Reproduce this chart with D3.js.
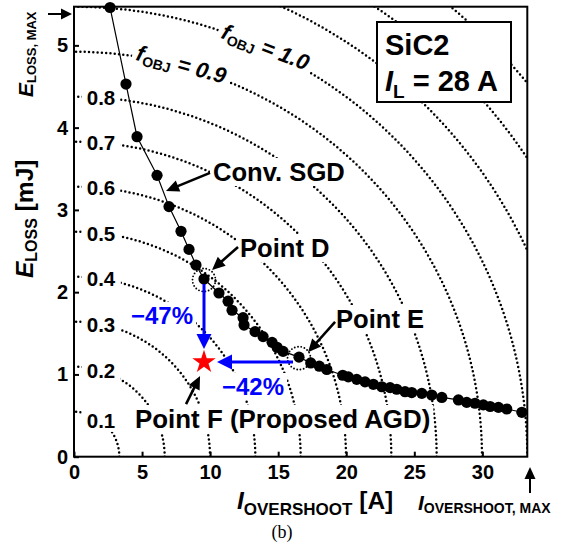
<!DOCTYPE html>
<html><head><meta charset="utf-8">
<script src="https://cdn.jsdelivr.net/npm/d3@7"></script>
<style>
html,body{margin:0;padding:0;background:#fff;}
svg{display:block;font-family:"Liberation Sans",Arial,sans-serif;}
</style></head><body>
<svg id="chart" width="567" height="545"></svg>
<script>
// ---------- data ----------
const IMAX = 33.3;   // I_OVERSHOOT,MAX [A]
const EMAX = 5.47;   // E_LOSS,MAX [mJ]
const convI = [2.65, 3.82, 4.63, 6.10, 6.98, 7.86, 8.45, 8.96, 9.55, 10.65, 11.32, 11.61, 12.42, 12.49, 13.30, 13.89, 14.55, 14.92, 15.36, 16.53, 17.39, 18.02, 18.57, 19.74, 20.15, 20.77, 21.38, 21.99, 22.61, 23.22, 23.71, 24.32, 24.81, 25.55, 26.28, 27.02, 28.24, 28.85, 29.46, 30.07, 30.57, 31.18, 31.79, 32.90];
const convE = [5.46, 4.53, 3.89, 3.42, 3.04, 2.74, 2.52, 2.33, 2.16, 1.99, 1.89, 1.78, 1.69, 1.60, 1.52, 1.46, 1.39, 1.33, 1.28, 1.21, 1.14, 1.10, 1.06, 0.99, 0.97, 0.94, 0.91, 0.88, 0.85, 0.84, 0.82, 0.79, 0.78, 0.77, 0.75, 0.72, 0.69, 0.66, 0.65, 0.63, 0.61, 0.60, 0.58, 0.54];
const xTicks = [0, 5, 10, 15, 20, 25, 30];
const yTicks = [0, 1, 2, 3, 4, 5];
const contourLevels = [0.1, 0.2, 0.3, 0.4, 0.5, 0.6, 0.7, 0.8, 0.9, 1.0, 1.1, 1.2, 1.3];
const leftLabelLevels = [0.1, 0.2, 0.3, 0.4, 0.5, 0.6, 0.7, 0.8];
const inlineLabelLevels = [0.9, 1.0];
const pointD = {I: 9.55, E: 2.16};
const pointE = {I: 16.53, E: 1.21};
const pointF = {I: 9.55, E: 1.15};
const reductionLabels = ["\u221247%", "\u221242%"];

// ---------- setup ----------
const svg = d3.select("#chart");
const x = d3.scaleLinear().domain([0, IMAX]).range([74, 527.3]);
const y = d3.scaleLinear().domain([0, EMAX]).range([456.7, 6.7]);
const BOLD = "bold";

svg.append("defs").append("clipPath").attr("id", "plot").append("rect")
  .attr("x", x(0)).attr("y", y(EMAX))
  .attr("width", x(IMAX) - x(0)).attr("height", y(0) - y(EMAX));

// ---------- contours f_OBJ ----------
const contourG = svg.append("g").attr("clip-path", "url(#plot)");
const cLine = d3.line().x(d => x(d[0])).y(d => y(d[1]));
contourLevels.forEach(f => {
  const pts = d3.range(0, 301).map(i => {
    const t = i / 300 * Math.PI / 2;
    return [f * IMAX * Math.cos(t), f * EMAX * Math.sin(t)];
  });
  contourG.append("path").attr("d", cLine(pts))
    .attr("fill", "none").attr("stroke", "#000").attr("stroke-width", 2.5)
    .attr("stroke-dasharray", "0 4.3").attr("stroke-linecap", "round");
});
const contourE = (f, I) => EMAX * Math.sqrt(Math.max(0, f * f - (I / IMAX) ** 2));

function knock(g, px, py) {
  const b = g.node().getBBox();
  g.insert("rect", ":first-child").attr("x", b.x - px).attr("y", b.y - py)
    .attr("width", b.width + 2 * px).attr("height", b.height + 2 * py).attr("fill", "#fff");
}

const labelG = svg.append("g");
leftLabelLevels.forEach(f => {
  const px = 101;
  const E0 = contourE(f, x.invert(px));
  const g = labelG.append("g");
  g.append("text").attr("x", px).attr("y", y(E0)).attr("dy", "0.36em")
    .attr("text-anchor", "middle").attr("font-size", 20.5).attr("font-weight", BOLD)
    .text(d3.format(".1f")(f));
  knock(g, 5, 0);
});

const inlinePos = [{px: 181, ang: 15}, {px: 265, ang: 21}];
inlineLabelLevels.forEach((f, i) => {
  const p = inlinePos[i];
  const E0 = contourE(f, x.invert(p.px));
  const g = labelG.append("g").attr("transform", `translate(${p.px},${y(E0)}) rotate(${p.ang})`);
  const t = g.append("text").attr("x", 0).attr("y", 6).attr("text-anchor", "middle")
    .attr("font-weight", BOLD).attr("font-size", 22);
  t.append("tspan").attr("font-style", "italic").text("f");
  t.append("tspan").attr("font-size", 14).attr("dy", 4).text("OBJ");
  t.append("tspan").attr("font-style", "italic").attr("dy", -4).text(" = " + d3.format(".1f")(f));
  knock(g, 4, -1);
});

// annotation texts (with white knock-out)
function annot(txt, px, py, color, size) {
  const g = labelG.append("g");
  g.append("text").attr("x", px).attr("y", py).attr("font-size", size)
    .attr("font-weight", BOLD).attr("fill", color).text(txt);
  knock(g, 3, 0);
}
annot("Conv. SGD", 213, 181, "#000", 25.6);
annot("Point D", 240, 257, "#000", 25.6);
annot("Point E", 336, 328, "#000", 25.6);
annot("Point F (Proposed AGD)", 135, 428, "#000", 25.9);
annot(reductionLabels[0], 131, 324, "#0000ff", 24);
annot(reductionLabels[1], 222, 395, "#0000ff", 24);

// ---------- SiC2 box ----------
const box = svg.append("g");
box.append("rect").attr("x", 377).attr("y", 22).attr("width", 134).attr("height", 80)
  .attr("fill", "#fff").attr("stroke", "#000").attr("stroke-width", 2);
box.append("text").attr("x", 385).attr("y", 55).attr("font-size", 29).attr("font-weight", BOLD).text("SiC2");
const il = box.append("text").attr("x", 385).attr("y", 91).attr("font-size", 29).attr("font-weight", BOLD);
il.append("tspan").attr("font-style", "italic").text("I");
il.append("tspan").attr("font-size", 19).attr("dy", 7).text("L");
il.append("tspan").attr("dy", -7).text(" = 28 A");

// ---------- axes ----------
const xAxis = svg.append("g").attr("transform", `translate(0,${y(0)})`)
  .call(d3.axisBottom(x).tickValues(xTicks).tickSizeInner(-5).tickSizeOuter(0).tickPadding(8).tickFormat(d3.format("d")));
const yAxis = svg.append("g").attr("transform", `translate(${x(0)},0)`)
  .call(d3.axisLeft(y).tickValues(yTicks).tickSizeInner(-5).tickSizeOuter(0).tickPadding(6).tickFormat(d3.format("d")));
[xAxis, yAxis].forEach(a => {
  a.select(".domain").remove();
  a.attr("font-family", null).attr("font-size", null);
  a.selectAll(".tick line").attr("stroke", "#000").attr("stroke-width", 2);
  a.selectAll(".tick text").attr("font-size", 20).attr("font-weight", BOLD).attr("fill", "#000");
});
svg.append("rect").attr("x", x(0)).attr("y", y(EMAX)).attr("width", x(IMAX) - x(0)).attr("height", y(0) - y(EMAX))
  .attr("fill", "none").attr("stroke", "#000").attr("stroke-width", 2);

// ---------- data ----------
const conv = convI.map((I, i) => ({I, E: convE[i]}));
svg.append("path").attr("d", d3.line().x(d => x(d.I)).y(d => y(d.E))(conv))
  .attr("fill", "none").attr("stroke", "#000").attr("stroke-width", 1.2);
[pointD, pointE].forEach(p => {
  svg.append("circle").attr("cx", x(p.I)).attr("cy", y(p.E) + 1).attr("r", 11.5)
    .attr("fill", "none").attr("stroke", "#000").attr("stroke-width", 1.9)
    .attr("stroke-dasharray", "0 3.3").attr("stroke-linecap", "round");
});
svg.append("g").selectAll("circle").data(conv).join("circle")
  .attr("cx", d => x(d.I)).attr("cy", d => y(d.E)).attr("r", 5.6).attr("fill", "#000");

// ---------- arrows ----------
function arrow(x1, y1, x2, y2, color, lw, L, W) {
  const dx = x2 - x1, dy = y2 - y1, len = Math.hypot(dx, dy), ux = dx / len, uy = dy / len;
  const bx = x2 - ux * L, by = y2 - uy * L;
  svg.append("line").attr("x1", x1).attr("y1", y1).attr("x2", bx + ux).attr("y2", by + uy)
    .attr("stroke", color).attr("stroke-width", lw);
  svg.append("path").attr("d", `M${x2},${y2}L${bx - uy * W},${by + ux * W}L${bx + uy * W},${by - ux * W}Z`)
    .attr("fill", color);
}
// black annotation arrows (data coordinates)
arrow(x(9.99), y(3.45), x(6.76), y(3.23), "#000", 2.6, 13, 6);
arrow(x(12.05), y(2.55), x(10.14), y(2.27), "#000", 2.6, 13, 6);
arrow(x(19.18), y(1.64), x(17.19), y(1.27), "#000", 2.6, 13, 6);
arrow(x(8.23), y(0.64), x(9.26), y(0.98), "#000", 2.6, 13, 6);
// blue reduction arrows
arrow(x(pointD.I), y(pointD.E) + 5, x(pointF.I), y(pointF.E) - 13, "#0000ff", 3, 15, 7.5);
arrow(x(pointE.I) - 6, y(pointF.E), x(pointF.I) + 13, y(pointF.E), "#0000ff", 3, 15, 7.5);
// star
svg.append("path").attr("transform", `translate(${x(pointF.I)},${y(pointF.E)})`)
  .attr("d", d3.symbol(d3.symbolStar, 170)()).attr("fill", "#ff0000");

// ---------- axis titles ----------
const xt = svg.append("text").attr("x", 237).attr("y", 509).attr("font-size", 24.5).attr("font-weight", BOLD);
xt.append("tspan").attr("font-style", "italic").text("I");
xt.append("tspan").attr("font-size", 17).attr("dy", 6).text("OVERSHOOT");
xt.append("tspan").attr("dy", -6).text(" [A]");

const yt = svg.append("text").attr("transform", "translate(33,278) rotate(-90)").attr("font-size", 24.5).attr("font-weight", BOLD);
yt.append("tspan").attr("font-style", "italic").text("E");
yt.append("tspan").attr("font-size", 16).attr("dy", 4).text("LOSS");
yt.append("tspan").attr("dy", -4).text(" [mJ]");

const emt = svg.append("text").attr("transform", "translate(33,97) rotate(-90)").attr("font-size", 21).attr("font-weight", BOLD);
emt.append("tspan").attr("font-style", "italic").text("E");
emt.append("tspan").attr("font-size", 13).attr("dy", 3).text("LOSS, MAX");
arrow(48, 14, 72, 14, "#000", 2, 11, 5.5);

const imt = svg.append("text").attr("x", 418).attr("y", 510).attr("font-size", 21).attr("font-weight", BOLD);
imt.append("tspan").attr("font-style", "italic").text("I");
imt.append("tspan").attr("font-size", 14).attr("dy", 3).text("OVERSHOOT, MAX");
arrow(530, 493, 530, 467, "#000", 2, 12, 5.5);

svg.append("text").attr("x", 282).attr("y", 538).attr("text-anchor", "middle")
  .attr("font-family", "'Liberation Serif',serif").attr("font-size", 18).text("(b)");
</script>
</body></html>
